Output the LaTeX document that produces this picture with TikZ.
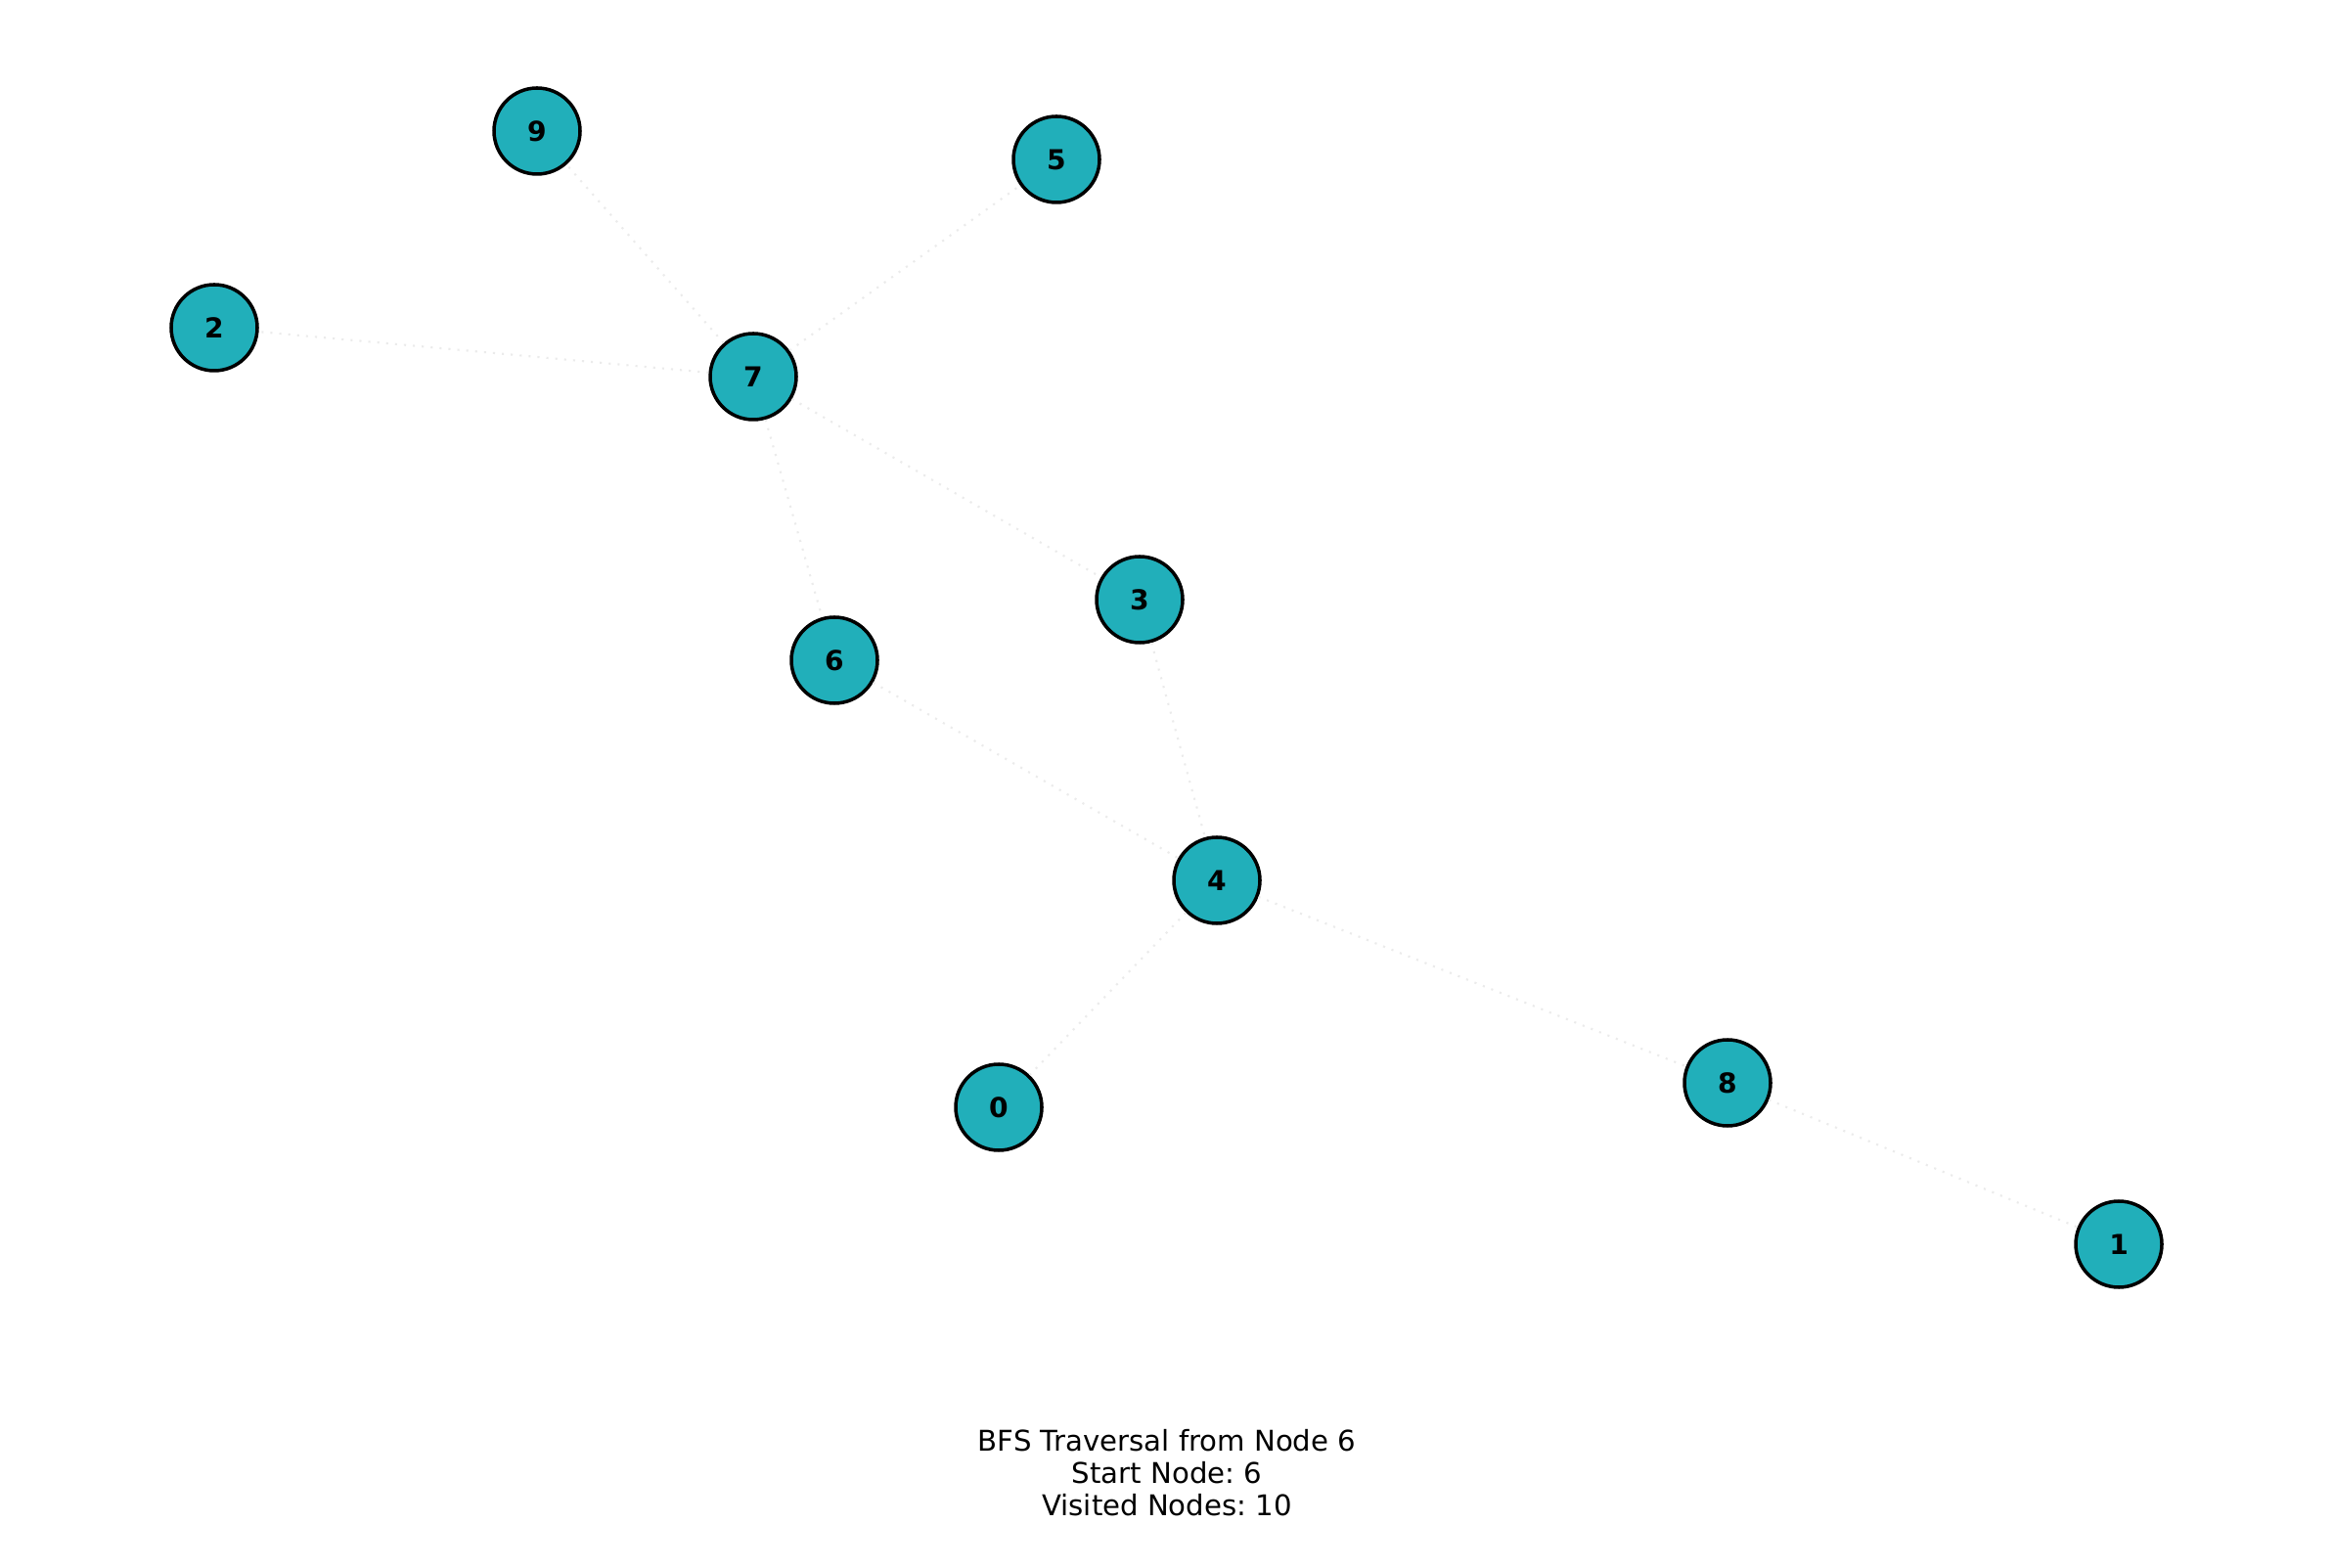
\documentclass[tikz,border=0pt]{standalone}
\usepackage{fontspec}
\setmainfont{DejaVu Sans}
\usepackage{xcolor}
\usepackage{tikz}
\definecolor{turchese}{HTML}{21AFBA}
\definecolor{grigio}{HTML}{EBEBEB}
\frenchspacing
\tikzset{
    nodo/.style={circle, draw=black, line width=1pt, fill=turchese, minimum size=0.88cm, inner sep=0pt, font=\fontsize{8}{9}\selectfont\bfseries},
    arco/.style={grigio, dotted, line width=0.6pt}
}

\begin{document}
\begin{tikzpicture}[x=1cm,y=1cm]
        \useasboundingbox (0,0) rectangle (23.85,16.02);
        % Nodi
        \node[nodo] (n9) at (5.49,14.68) {9};
        \node[nodo] (n5) at (10.80,14.39) {5};
        \node[nodo] (n2) at (2.19,12.67) {2};
        \node[nodo] (n7) at (7.70,12.17) {7};
        \node[nodo] (n3) at (11.65,9.89) {3};
        \node[nodo] (n6) at (8.53,9.27) {6};
        \node[nodo] (n4) at (12.44,7.02) {4};
        \node[nodo] (n0) at (10.21,4.70) {0};
        \node[nodo] (n8) at (17.66,4.95) {8};
        \node[nodo] (n1) at (21.66,3.30) {1};
        % Archi
        \foreach \u/\v in {7/9, 7/5, 7/2, 7/3, 7/6, 6/4, 3/4, 4/0, 4/8, 8/1}
            \draw[arco] (n\u) -- (n\v);
        % Titolo
        \node[align=center, font=\fontsize{8.3}{9.4}\selectfont] (titolo) at (11.93,0.96)
        {BFS Traversal from Node 6\\Start Node: 6\\Visited Nodes: 10};
    \end{tikzpicture}
\end{document}
